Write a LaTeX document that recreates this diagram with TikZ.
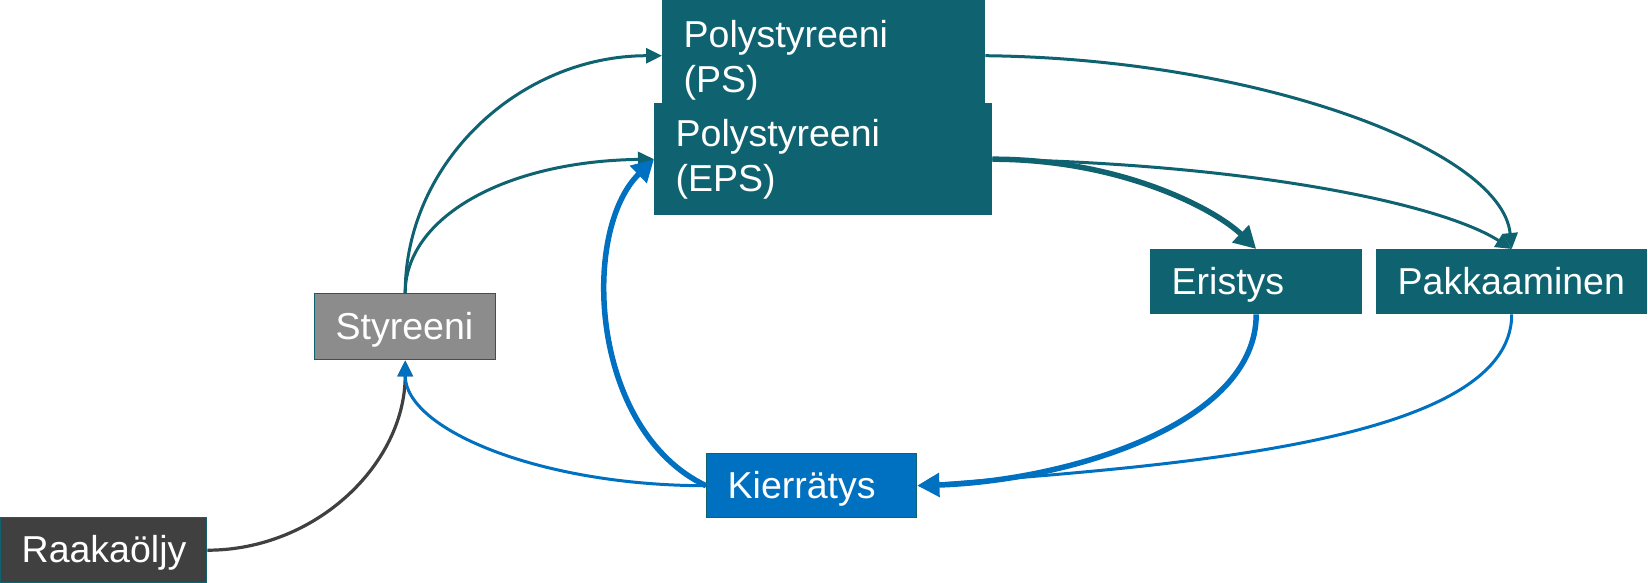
\documentclass[tikz,border=0pt]{standalone}
\usepackage{fontspec}
\setmainfont{Liberation Sans}
\usetikzlibrary{arrows.meta}
\definecolor{tealc}{HTML}{0F6370}
\definecolor{bluec}{HTML}{0070C0}
\definecolor{grayc}{HTML}{8C8C8C}
\definecolor{darkc}{HTML}{404040}
\begin{document}
\begin{tikzpicture}[x=1pt,y=-1pt,
  boxst/.style={draw=tealc, line width=1.4pt, inner xsep=21pt, inner ysep=0pt,
    align=left, text=white, font=\fontsize{37.5}{45}\selectfont, anchor=north west},
  one/.style={text height=26.5pt, text depth=1pt},
  thinarrow/.style={-{Triangle[length=16pt,width=15pt]}},
  thickarrow/.style={-{Triangle[length=22pt,width=23pt]}},
  gl/.style={draw=darkc, line width=3.2pt, thinarrow},
  tl/.style={draw=tealc, line width=3pt, thinarrow},
  tlt/.style={draw=tealc, line width=5.5pt, thickarrow},
  bl/.style={draw=bluec, line width=3pt, thinarrow},
  blt/.style={draw=bluec, line width=5.5pt, thickarrow}]
\useasboundingbox (0,0) rectangle (1648,582);

\node[boxst, fill=tealc, text width=280pt, minimum height=120pt] (ps) at (662,0) {Polystyreeni\\(PS)};
\node[boxst, fill=tealc, text width=295pt, minimum height=111pt] (eps) at (654,103) {Polystyreeni\\(EPS)};
\node[boxst, one, fill=tealc, text width=169pt, minimum height=64pt] (eri) at (1150,249) {Eristys};
\node[boxst, one, fill=tealc, text width=228pt, minimum height=64pt] (pak) at (1376,249) {Pakkaaminen};
\node[boxst, one, fill=grayc, text width=139pt, minimum height=66pt] (sty) at (314,293) {Styreeni};
\node[boxst, one, fill=darkc, text width=164pt, minimum height=65pt] (raa) at (0,517) {Raakaöljy};
\node[boxst, one, fill=bluec, text width=168pt, minimum height=64pt] (kie) at (706,453) {Kierrätys};

\draw[gl] (raa.east) .. controls +(109,0) and +(0,103) .. (sty.south);
\draw[tl] (sty.north) .. controls +(0,-131) and +(-142,0) .. ([yshift=5pt]ps.west);
\draw[tl] (sty.north) .. controls +(0,-75) and +(-150,2) .. (eps.west);
\draw[bl] (kie.west) .. controls +(-166,0) and +(0,69) .. (sty.south);
\draw[blt] (kie.west) .. controls +(-116,-55) and +(-74,72) .. (eps.west);
\draw[tlt] (eps.east) .. controls +(130,0) and +(-40,-39) .. (eri.north);
\draw[tl] (eps.east) .. controls +(260,5) and +(-70,-45) .. (pak.north);
\draw[tl] ([yshift=5pt]ps.east) .. controls +(270,3) and +(-10,-100) .. (pak.north);
\draw[bl] (pak.south) .. controls +(0,130) and +(250,-20) .. (kie.east);
\draw[blt] (eri.south) .. controls +(0,110) and +(150,-5) .. (kie.east);
\end{tikzpicture}
\end{document}
